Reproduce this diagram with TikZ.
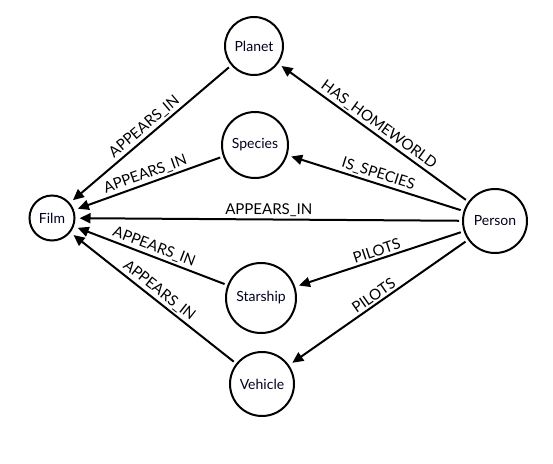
\documentclass[tikz,border=0pt]{standalone}
\usepackage{fontspec}
\setmainfont{Lato}
\usetikzlibrary{arrows.meta}
\begin{document}
\begin{tikzpicture}[x=1pt,y=-1pt,
  ent/.style={circle,draw=black,line width=2pt,text=black!80!blue!60!black,font=\fontsize{14}{16}\selectfont,inner sep=0pt},
  rel/.style={-{Triangle[length=11pt,width=10pt]},line width=2pt,shorten >=4pt,shorten <=3pt},
  lab/.style={sloped,above,font=\fontsize{15}{17}\selectfont,inner sep=2pt}]
\useasboundingbox (0,0) rectangle (553,463);
\node[ent,minimum size=45pt] (film) at (52,218) {Film};
\node[ent,minimum size=58pt] (planet) at (254,46) {Planet};
\node[ent,minimum size=66pt] (species) at (255,145) {Species};
\node[ent,minimum size=64pt] (person) at (495,221) {Person};
\node[ent,minimum size=70pt] (starship) at (261,298) {Starship};
\node[ent,minimum size=64pt] (vehicle) at (262,384) {Vehicle};
\draw[rel] (planet) -- node[lab,pos=0.5] {APPEARS\_IN} (film);
\draw[rel] (species) -- node[lab,pos=0.5] {APPEARS\_IN} (film);
\draw[rel] (person) -- node[lab,pos=0.5] {APPEARS\_IN} (film);
\draw[rel] (starship) -- node[lab,pos=0.5] {APPEARS\_IN} (film);
\draw[rel] (vehicle) -- node[lab,pos=0.5] {APPEARS\_IN} (film);
\draw[rel] (person) -- node[lab,pos=0.5] {HAS\_HOMEWORLD} (planet);
\draw[rel] (person) -- node[lab,pos=0.5] {IS\_SPECIES} (species);
\draw[rel] (person) -- node[lab,pos=0.5] {PILOTS} (starship);
\draw[rel] (person) -- node[lab,pos=0.5] {PILOTS} (vehicle);
\end{tikzpicture}
\end{document}
